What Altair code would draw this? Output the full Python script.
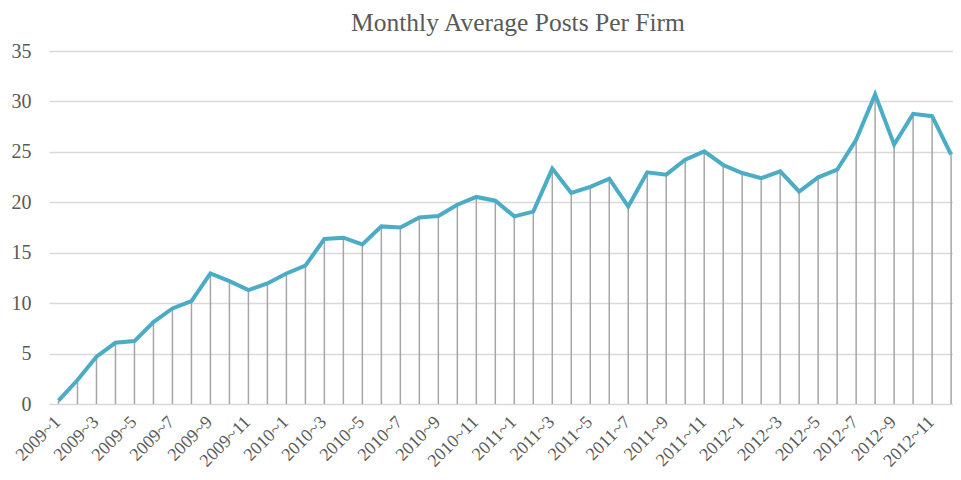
import altair as alt
import pandas as pd

years = [2009, 2010, 2011, 2012]
months = list(range(1, 13))
labels = [f"{y}~{m}" for y in years for m in months]

posts = [
    0.33, 2.38, 4.69, 6.07, 6.24, 8.12, 9.47, 10.2, 12.94, 12.18, 11.29, 11.95,
    12.94, 13.72, 16.36, 16.49, 15.82, 17.61, 17.51, 18.5, 18.64, 19.76, 20.53, 20.16,
    18.6, 19.07, 23.34, 20.92, 21.52, 22.34, 19.58, 22.97, 22.74, 24.23, 25.05, 23.7,
    22.9, 22.4, 23.06, 21.07, 22.47, 23.23, 26.2, 30.7, 25.72, 28.77, 28.54, 24.73,
]

df = pd.DataFrame({"i": list(range(len(labels))), "label": labels, "posts": posts})

label_array = "[" + ",".join(f"'{l}'" for l in labels) + "]"
tick_vals = list(range(0, len(labels), 2))

FONT = "Liberation Serif"
TXT = "#595959"

x_scale = alt.Scale(domain=[-0.5, 47.1], nice=False, zero=False)
y_scale = alt.Scale(domain=[0, 35], nice=False)

base = alt.Chart(df).encode(
    x=alt.X(
        "i:Q",
        scale=x_scale,
        axis=alt.Axis(
            values=tick_vals,
            labelExpr=f"{label_array}[datum.value]",
            labelAngle=-45,
            labelAlign="right",
            labelBaseline="middle",
            labelPadding=15,
            labelOffset=-1,
            ticks=False,
            domain=False,
            grid=False,
            title=None,
            labelOverlap=False,
            labelBound=False,
            labelFlush=False,
        ),
    ),
    y=alt.Y(
        "posts:Q",
        scale=y_scale,
        axis=alt.Axis(
            values=[0, 5, 10, 15, 20, 25, 30, 35],
            labelPadding=18,
            ticks=False,
            domain=False,
            grid=True,
            gridColor="#d9d9d9",
            gridWidth=1.3,
            title=None,
        ),
    ),
)

drops = base.mark_rule(color="#a6a6a6", strokeWidth=1.5).encode(y2=alt.datum(0))
line = base.mark_line(color="#4bacc6", strokeWidth=4, strokeJoin="miter", strokeCap="butt")

chart = (
    alt.layer(drops, line)
    .properties(
        width=904,
        height=353,
        autosize=alt.AutoSizeParams(type="none"),
        padding={"left": 41, "top": 43, "right": 0, "bottom": 66},
        title=alt.TitleParams(
            "Monthly Average Posts Per Firm",
            anchor="middle",
            frame="group",
            offset=5,
            dx=17,
        ),
    )
    .configure(font=FONT)
    .configure_title(font=FONT, fontSize=25.5, fontWeight="normal", color=TXT)
    .configure_axisX(labelFont=FONT, labelFontSize=18, labelColor=TXT, labelOverlap=False)
    .configure_axisY(labelFont=FONT, labelFontSize=20, labelColor=TXT)
    .configure_view(stroke=None)
)

chart.save("out.html", embed_options={"renderer": "svg", "actions": False})
